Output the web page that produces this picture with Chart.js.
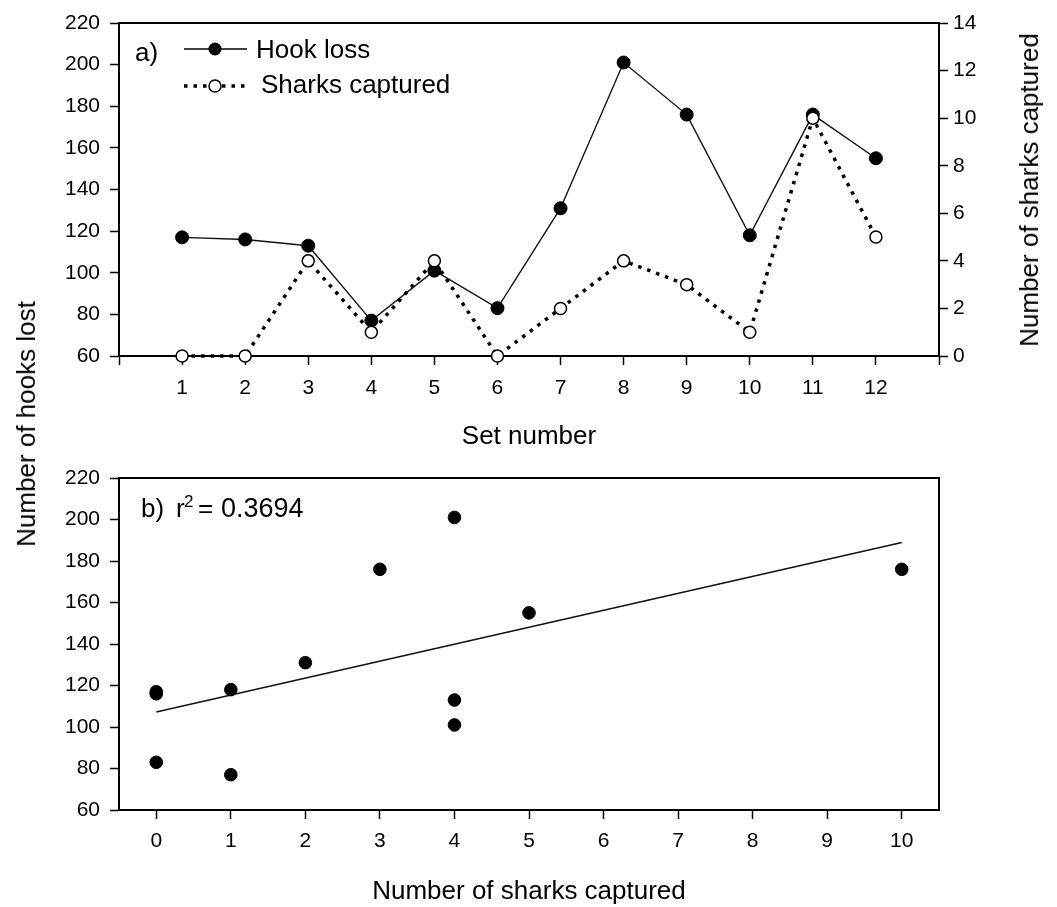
<!DOCTYPE html>
<html><head><meta charset="utf-8">
<script src="https://cdn.jsdelivr.net/npm/chart.js@4/dist/chart.umd.min.js"></script>
<style>
html,body{margin:0;padding:0;background:#fff;width:1057px;height:907px;overflow:hidden;}
#wrap{position:relative;width:1057px;height:907px;}
#c1{position:absolute;left:0;top:0;}
#c2{position:absolute;left:0;top:450px;}
.vt{position:absolute;font-family:"Liberation Sans",Arial,sans-serif;font-size:26px;color:#000;white-space:nowrap;transform:translate(-50%,-50%) rotate(-90deg);line-height:1;}
</style></head>
<body><div id="wrap">
<canvas id="c1" width="1057" height="450"></canvas>
<canvas id="c2" width="1057" height="457"></canvas>
<div class="vt" style="left:26px;top:424px">Number of hooks lost</div>
<div class="vt" style="left:1029px;top:190px">Number of sharks captured</div>
</div>
<script>
// ---- data ----
const setNumbers = [1,2,3,4,5,6,7,8,9,10,11,12];
const hookLoss = [117,116,113,77,101,83,131,201,176,118,176,155];
const sharksCaptured = [0,0,4,1,4,0,2,4,3,1,10,5];
const hookTicks = [60,80,100,120,140,160,180,200,220];
const sharkTicks = [0,2,4,6,8,10,12,14];
const sharkXTicks = [0,1,2,3,4,5,6,7,8,9,10];
const seriesLabels = ['Hook loss','Sharks captured'];
const panelA = 'a)';
const panelB = 'b)';

const FONT = '"Liberation Sans", Arial, sans-serif';
const tickFont = {family: FONT, size: 21};
const titleFont = {family: FONT, size: 26, lineHeight: 1};

// linear regression of hook loss on sharks captured
const n = hookLoss.length;
const mx = sharksCaptured.reduce((a,b)=>a+b,0)/n;
const my = hookLoss.reduce((a,b)=>a+b,0)/n;
let sxy=0, sxx=0, syy=0;
for (let i=0;i<n;i++){ const dx=sharksCaptured[i]-mx, dy=hookLoss[i]-my; sxy+=dx*dy; sxx+=dx*dx; syy+=dy*dy; }
const slope = sxy/sxx, intercept = my - slope*mx;
const r2 = (sxy*sxy)/(sxx*syy);
const xMinFit = Math.min(...sharksCaptured), xMaxFit = Math.max(...sharksCaptured);

function gridTicks(){ return {display:true, drawOnChartArea:false, drawTicks:true, tickLength:9, tickColor:'#000', tickWidth:1.5}; }
const border = {display:true, color:'#000', width:2};

const frame = {
  id:'frame',
  beforeDatasetsDraw(chart){
    const {ctx, chartArea:a} = chart;
    ctx.save(); ctx.strokeStyle='#000'; ctx.lineWidth=2;
    ctx.strokeRect(a.left, a.top, a.right-a.left, a.bottom-a.top);
    ctx.restore();
  }
};

const legendA = {
  id:'legendA',
  afterDraw(chart){
    const ctx = chart.ctx;
    ctx.save();
    ctx.fillStyle='#000';
    ctx.font = '26px ' + FONT;
    ctx.textBaseline='alphabetic';
    ctx.fillText(panelA, 135, 61);
    const ds = chart.data.datasets;
    // row 1
    ctx.strokeStyle='#000'; ctx.lineWidth=ds[0].borderWidth; ctx.setLineDash([]);
    ctx.beginPath(); ctx.moveTo(184,49); ctx.lineTo(247,49); ctx.stroke();
    ctx.beginPath(); ctx.arc(215,49,6.5,0,Math.PI*2); ctx.fillStyle='#000'; ctx.fill();
    ctx.fillText(ds[0].label, 256, 58);
    // row 2
    ctx.lineWidth=ds[1].borderWidth; ctx.setLineDash(ds[1].borderDash);
    ctx.beginPath(); ctx.moveTo(184,86); ctx.lineTo(247,86); ctx.stroke();
    ctx.setLineDash([]);
    ctx.beginPath(); ctx.arc(215,86,6,0,Math.PI*2); ctx.fillStyle='#fff'; ctx.fill();
    ctx.lineWidth=1.5; ctx.strokeStyle='#000'; ctx.stroke();
    ctx.fillStyle='#000';
    ctx.fillText(ds[1].label, 261, 93);
    ctx.restore();
  }
};

const labelB = {
  id:'labelB',
  afterDraw(chart){
    const ctx = chart.ctx;
    ctx.save(); ctx.fillStyle='#000'; ctx.textBaseline='alphabetic';
    const base = 517-450;
    ctx.font = '26px ' + FONT;
    ctx.fillText(panelB, 141, base);
    ctx.fillText('r', 176, base);
    ctx.font = '17px ' + FONT;
    ctx.fillText('2', 184, base-10);
    ctx.font = '26px ' + FONT;
    ctx.fillText('=', 198, base);
    ctx.font = '27px ' + FONT;
    ctx.fillText(r2.toFixed(4), 221, base);
    ctx.restore();
  }
};

Chart.defaults.font.family = FONT;
Chart.defaults.color = '#000';

new Chart(document.getElementById('c1'), {
  type:'line',
  data:{
    datasets:[
      {label:seriesLabels[0], data:setNumbers.map((s,i)=>({x:s,y:hookLoss[i]})), yAxisID:'y',
       borderColor:'#111', borderWidth:1.4, pointRadius:6.5, pointBackgroundColor:'#000', pointBorderColor:'#000',
       pointBorderWidth:1, tension:0, clip:false, order:1},
      {label:seriesLabels[1], data:setNumbers.map((s,i)=>({x:s,y:sharksCaptured[i]})), yAxisID:'y2',
       borderColor:'#000', borderWidth:3.5, borderDash:[3.5,6], pointRadius:6, pointBackgroundColor:'#fff',
       pointBorderColor:'#000', pointBorderWidth:1.5, tension:0, clip:false, order:0}
    ]
  },
  options:{
    responsive:false, animation:false, events:[],
    layout:{padding:{top:23,left:0,right:0,bottom:0}},
    plugins:{legend:{display:false}, tooltip:{enabled:false}},
    scales:{
      x:{type:'linear', min:0, max:setNumbers.length+1,
         afterBuildTicks:s=>{ s.ticks=[0,...setNumbers,setNumbers.length+1].map(v=>({value:v})); },
         ticks:{font:tickFont, color:'#000', padding:11, autoSkip:false, maxRotation:0,
                callback:v=> setNumbers.includes(v) ? String(v) : ''},
         grid:gridTicks(), border:border,
         title:{display:true, text:'Set number', font:titleFont, color:'#000', padding:{top:0,bottom:0}},
         afterFit:s=>{ s.height=94; }},
      y:{type:'linear', position:'left', min:60, max:220,
         afterBuildTicks:s=>{ s.ticks=hookTicks.map(v=>({value:v})); },
         ticks:{font:tickFont, color:'#000', padding:10},
         grid:gridTicks(), border:border,
         afterFit:s=>{ s.width=119; }},
      y2:{type:'linear', position:'right', min:0, max:14,
         afterBuildTicks:s=>{ s.ticks=sharkTicks.map(v=>({value:v})); },
         ticks:{font:tickFont, color:'#000', padding:5},
         grid:gridTicks(), border:border,
         afterFit:s=>{ s.width=118; }}
    }
  },
  plugins:[frame, legendA]
});

new Chart(document.getElementById('c2'), {
  type:'scatter',
  data:{
    datasets:[
      {label:'Hook loss vs sharks', data:sharksCaptured.map((s,i)=>({x:s,y:hookLoss[i]})),
       pointRadius:6.3, pointBackgroundColor:'#000', pointBorderColor:'#000', pointBorderWidth:1, showLine:false, clip:false},
      {label:'Regression', type:'line',
       data:[{x:xMinFit,y:intercept+slope*xMinFit},{x:xMaxFit,y:intercept+slope*xMaxFit}],
       borderColor:'#111', borderWidth:1.5, pointRadius:0, tension:0}
    ]
  },
  options:{
    responsive:false, animation:false, events:[],
    layout:{padding:{top:28,left:0,right:118,bottom:0}},
    plugins:{legend:{display:false}, tooltip:{enabled:false}},
    scales:{
      x:{type:'linear', min:-0.5, max:10.5,
         afterBuildTicks:s=>{ s.ticks=sharkXTicks.map(v=>({value:v})); },
         ticks:{font:tickFont, color:'#000', padding:10, autoSkip:false, maxRotation:0},
         grid:gridTicks(), border:border,
         title:{display:true, text:'Number of sharks captured', font:titleFont, color:'#000', padding:{top:0,bottom:2}},
         afterFit:s=>{ s.height=97; }},
      y:{type:'linear', position:'left', min:60, max:220,
         afterBuildTicks:s=>{ s.ticks=hookTicks.map(v=>({value:v})); },
         ticks:{font:tickFont, color:'#000', padding:10},
         grid:gridTicks(), border:border,
         afterFit:s=>{ s.width=119; }}
    }
  },
  plugins:[frame, labelB]
});
</script>
</body></html>
